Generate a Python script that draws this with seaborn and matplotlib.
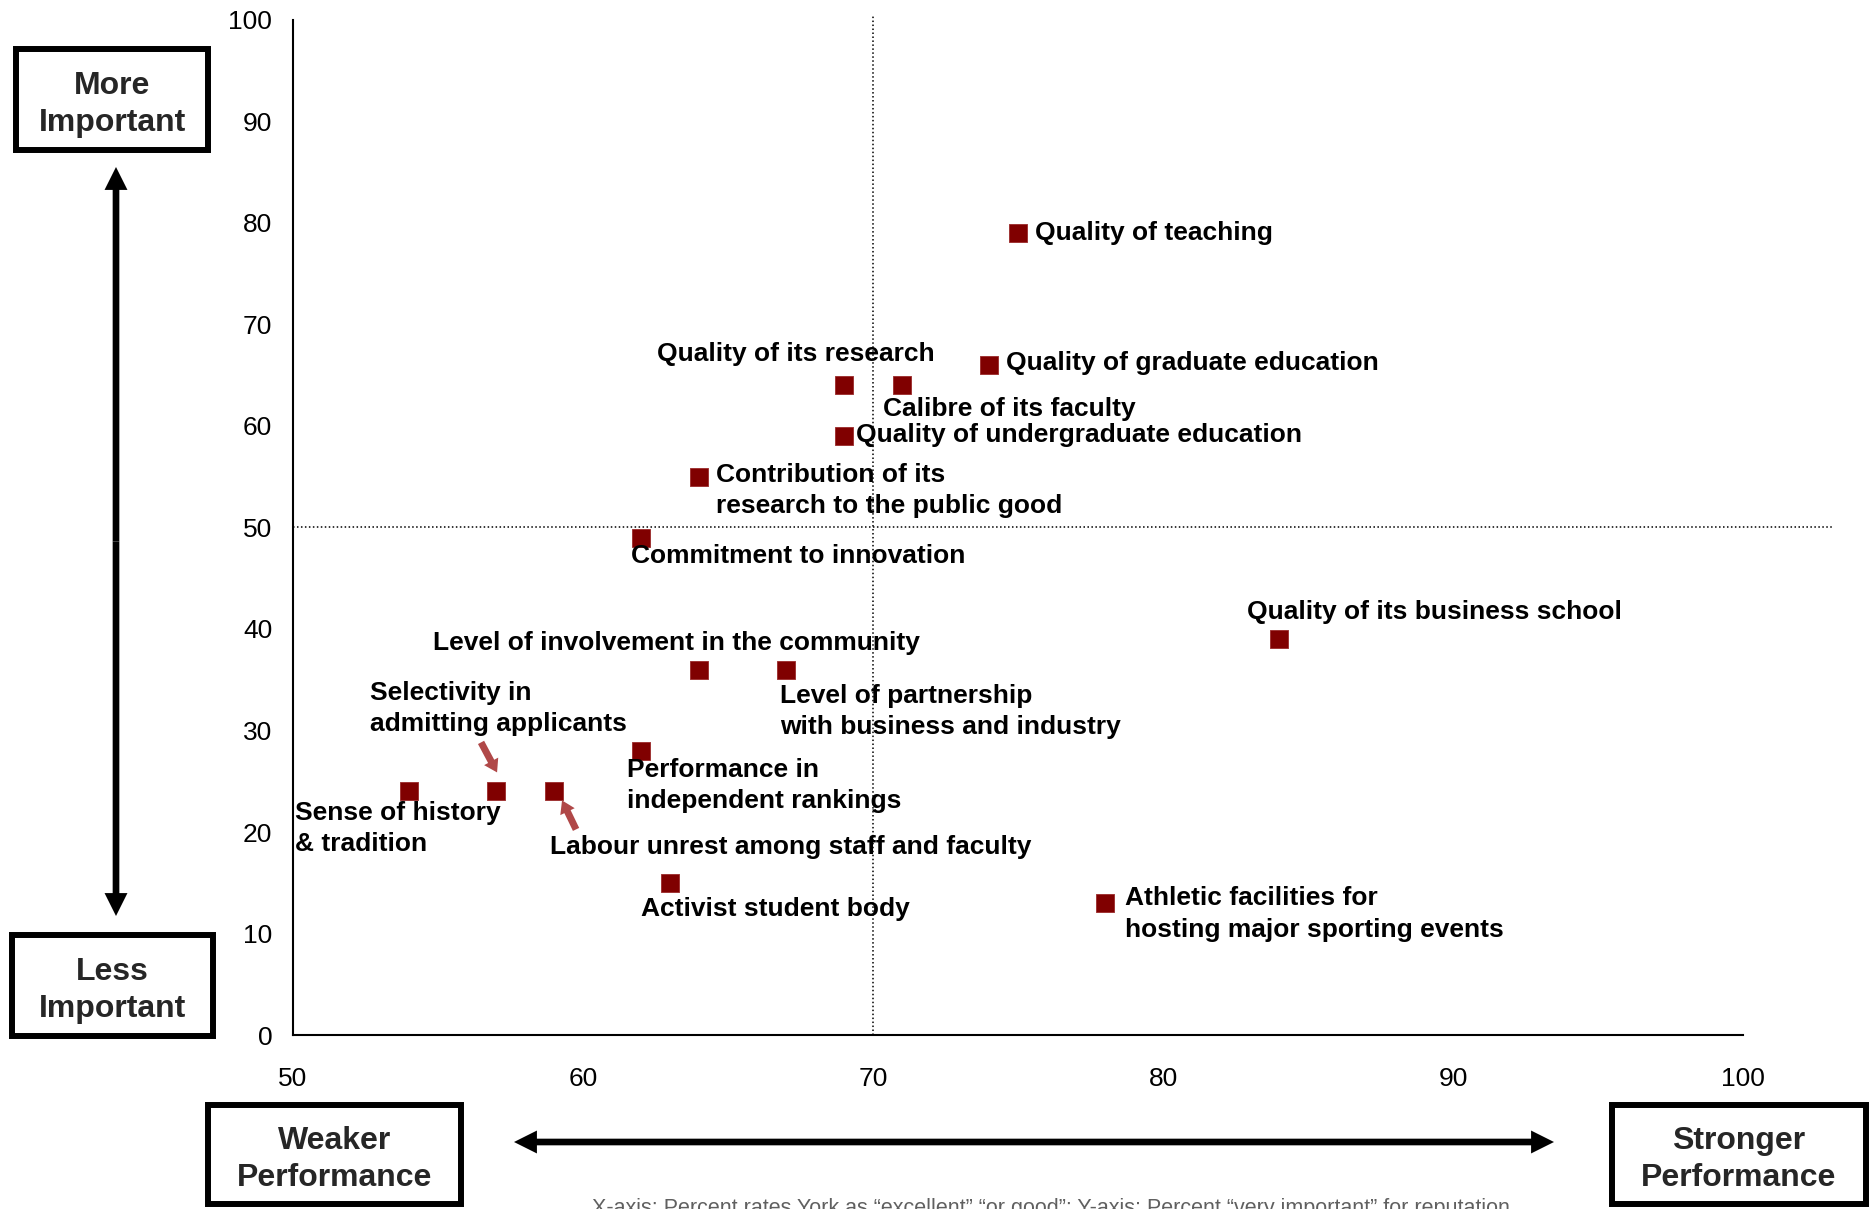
import matplotlib
matplotlib.use("Agg")
import matplotlib.pyplot as plt
import matplotlib.transforms as mtransforms
from matplotlib.patches import Rectangle, FancyArrowPatch, ArrowStyle
import seaborn as sns
import pandas as pd

# ---- data -------------------------------------------------------------
attributes = [
    "Quality of teaching",
    "Quality of graduate education",
    "Quality of its research",
    "Calibre of its faculty",
    "Quality of undergraduate education",
    "Contribution of its\nresearch to the public good",
    "Commitment to innovation",
    "Quality of its business school",
    "Level of involvement in the community",
    "Level of partnership\nwith business and industry",
    "Selectivity in\nadmitting applicants",
    "Performance in\nindependent rankings",
    "Sense of history\n& tradition",
    "Labour unrest among staff and faculty",
    "Activist student body",
    "Athletic facilities for\nhosting major sporting events",
]
performance = [75, 74, 69, 71, 69, 64, 62, 84, 64, 67, 57, 62, 54, 59, 63, 78]
importance = [79, 66, 64, 64, 59, 55, 49, 39, 36, 36, 24, 28, 24, 24, 15, 13]

x_ticks = [50, 60, 70, 80, 90, 100]
y_ticks = [0, 10, 20, 30, 40, 50, 60, 70, 80, 90, 100]
mid_performance = 70
mid_importance = 50

caption = ("X-axis: Percent rates York as \u201cexcellent\u201d \u201cor good\u201d; "
           "Y-axis: Percent \u201cvery important\u201d for reputation")

# ---- label layout (pixel offsets from each marker, left-aligned, centred) ----
label_offsets = {
    "Quality of teaching": (17, 0),
    "Quality of graduate education": (17, 2),
    "Quality of its research": (-187, 31),
    "Calibre of its faculty": (-19, -24),
    "Quality of undergraduate education": (12, 1),
    "Contribution of its\nresearch to the public good": (17, -14),
    "Commitment to innovation": (-10, -18),
    "Quality of its business school": (-32, 27),
    "Level of involvement in the community": (-266, 27),
    "Level of partnership\nwith business and industry": (-6, -42),
    "Selectivity in\nadmitting applicants": (-126, 83),
    "Performance in\nindependent rankings": (-14, -35),
    "Sense of history\n& tradition": (-114, -37),
    "Labour unrest among staff and faculty": (-4, -56),
    "Activist student body": (-29, -26),
    "Athletic facilities for\nhosting major sporting events": (20, -11),
}

# ---- style ------------------------------------------------------------
sns.set_style("white")
plt.rcParams["font.family"] = ["Liberation Sans", "DejaVu Sans"]
narrow = ["Liberation Sans Narrow", "Liberation Sans", "DejaVu Sans"]
bold_font = ["Liberation Sans", "DejaVu Sans"]
marker_color = "#800000"
pointer_color = "#b04848"

fig = plt.figure(figsize=(18.69, 12.09), dpi=100)
ax = fig.add_axes([0.1568, 0.1439, 0.7758, 0.8396])

df = pd.DataFrame({"attribute": attributes,
                   "performance": performance,
                   "importance": importance})

sns.scatterplot(data=df, x="performance", y="importance", marker="s",
                s=165, color=marker_color, edgecolor="#9a2a2a", linewidth=0.6,
                ax=ax, legend=False, zorder=4, clip_on=False)

ax.set_xlim(x_ticks[0], x_ticks[-1])
ax.set_ylim(y_ticks[0], y_ticks[-1])
ax.set_xticks(x_ticks)
ax.set_yticks(y_ticks)
ax.set_xlabel("")
ax.set_ylabel("")
for side in ("top", "right"):
    ax.spines[side].set_visible(False)
for side in ("left", "bottom"):
    ax.spines[side].set_linewidth(1.5)
    ax.spines[side].set_color("black")
ax.tick_params(axis="both", direction="out", length=7, width=1.5,
               color="black", labelsize=19, labelcolor="black")
ax.tick_params(axis="x", pad=16)
ax.tick_params(axis="y", pad=8)
for lbl in ax.get_xticklabels() + ax.get_yticklabels():
    lbl.set_fontfamily(narrow)

# quadrant divider lines
dots = (0, (1, 1.6))
ax.axvline(mid_performance, ymin=0, ymax=1.004, color="black", lw=1.1,
           linestyle=dots, clip_on=False, zorder=1)
ax.plot([x_ticks[0], 103.1], [mid_importance, mid_importance], color="black",
        lw=1.1, linestyle=dots, clip_on=False, zorder=1)

# point labels
for name, px, py in zip(attributes, performance, importance):
    dx, dy = label_offsets[name]
    ax.annotate(name, xy=(px, py), xytext=(dx, dy), textcoords="offset pixels",
                ha="left", va="center", fontsize=19, fontweight="bold",
                family=bold_font, color="black", linespacing=1.38, zorder=5,
                annotation_clip=False)

# small pointers to crowded markers
pointer_style = ArrowStyle.Simple(head_length=0.9, head_width=1.15, tail_width=0.5)
pointers = [
    ("Selectivity in\nadmitting applicants", (1, 19), (-16, 30)),
    ("Labour unrest among staff and faculty", (8, -9), (14, -29)),
]
for name, tip, tail in pointers:
    i = attributes.index(name)
    tip_tr = mtransforms.offset_copy(ax.transData, fig=fig, x=tip[0], y=tip[1],
                                     units="dots")
    ax.annotate("", xy=(performance[i], importance[i]), xycoords=tip_tr,
                xytext=tail, textcoords="offset pixels",
                arrowprops=dict(arrowstyle=pointer_style, color=pointer_color,
                                lw=0, shrinkA=0, shrinkB=0, mutation_scale=10),
                zorder=5)

# ---- framed axis captions --------------------------------------------
W, H = 1869.0, 1209.0


def framed_label(text, left, top, right, bottom):
    rect = Rectangle((left / W, 1 - bottom / H), (right - left) / W,
                     (bottom - top) / H, transform=fig.transFigure,
                     facecolor="white", edgecolor="black", lw=4.3,
                     joinstyle="miter", zorder=2)
    fig.add_artist(rect)
    fig.text((left + right) / 2 / W, 1 - ((top + bottom) / 2 + 5) / H, text,
             ha="center", va="center", fontsize=23, fontweight="bold",
             family=bold_font, linespacing=1.3, zorder=3)


framed_label("More\nImportant", 16, 49, 208, 150)
framed_label("Less\nImportant", 12, 935, 213, 1036)
framed_label("Weaker\nPerformance", 208, 1105, 461, 1204)
framed_label("Stronger\nPerformance", 1612, 1105, 1866, 1204)

# thick double-headed direction arrows
big_head = ArrowStyle.Simple(head_length=1.65, head_width=1.65, tail_width=0.48)


def double_arrow(p1, p2):
    mid = ((p1[0] + p2[0]) / 2 / W, 1 - (p1[1] + p2[1]) / 2 / H)
    for p in (p1, p2):
        fig.add_artist(FancyArrowPatch(mid, (p[0] / W, 1 - p[1] / H),
                                       transform=fig.transFigure,
                                       arrowstyle=big_head, mutation_scale=10,
                                       color="black", lw=0,
                                       shrinkA=0, shrinkB=0))


double_arrow((116, 167), (116, 916))
double_arrow((514, 1142), (1554, 1142))

fig.text(1051 / W, 1 - 1198 / H, caption, ha="center", va="top",
         fontsize=15.5, color="#606060", family=bold_font)

fig.savefig("out.png", dpi=100, facecolor="white")
